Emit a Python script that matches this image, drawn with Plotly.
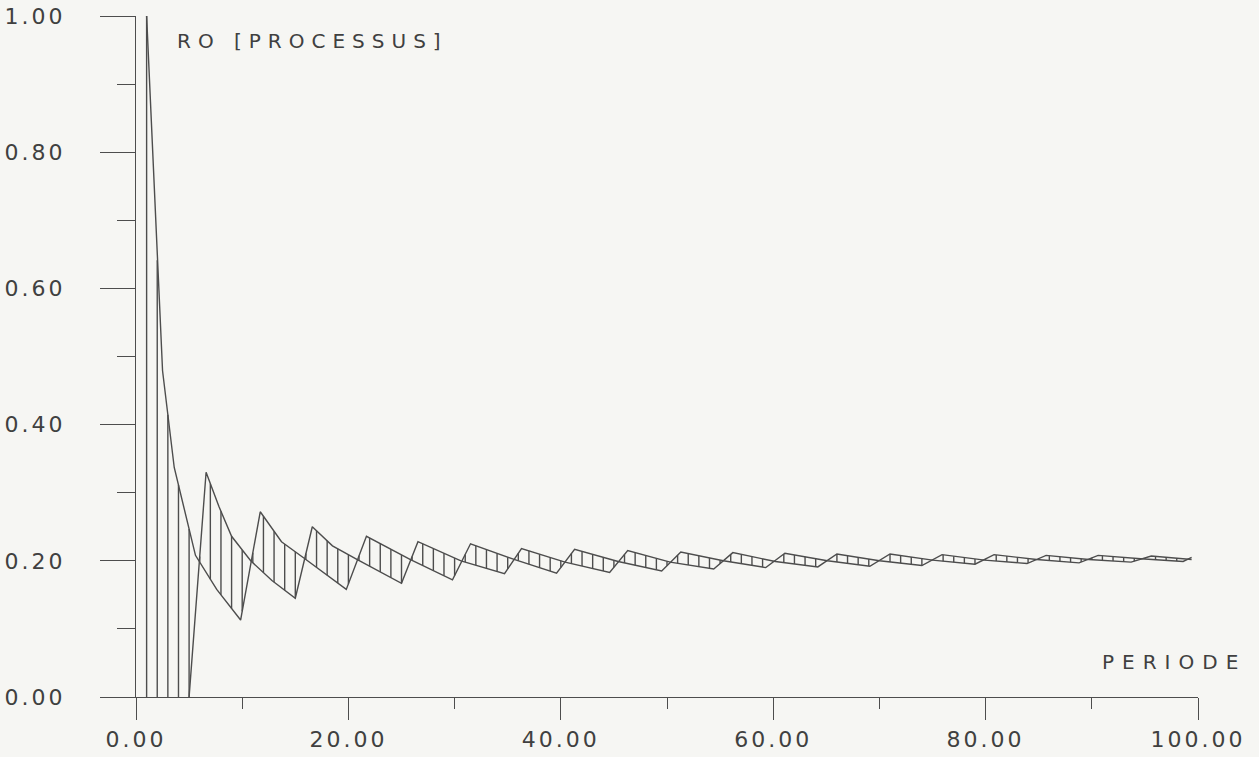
import numpy as np
import plotly.graph_objects as go

# ---- data ----
# curve 1 (starts at lag 1 with rho = 1)
c1_x = [1.0, 1.9, 2.5, 3.6, 5.6, 7.6, 9.85,
        11.7, 13.7, 15.9, 19.8,
        21.7, 25.8, 29.8,
        31.5, 35.6, 39.6,
        41.3, 45.4, 49.5,
        51.3, 55.3, 59.3,
        61.1, 65.1, 69.1,
        71.0, 75.0, 79.0,
        80.8, 84.8, 88.8,
        90.6, 94.6, 98.6, 99.4]
c1_y = [1.000, 0.674, 0.479, 0.337, 0.208, 0.158, 0.113,
        0.272, 0.228, 0.203, 0.158,
        0.236, 0.202, 0.172,
        0.225, 0.202, 0.182,
        0.217, 0.199, 0.185,
        0.213, 0.200, 0.190,
        0.211, 0.200, 0.192,
        0.210, 0.201, 0.195,
        0.209, 0.202, 0.197,
        0.208, 0.203, 0.199, 0.205]
# curve 2 (starts at lag 5 from zero)
c2_x = [5.0, 6.6, 7.8, 9.0, 10.8, 12.8, 15.0,
        16.6, 18.5, 20.8, 25.0,
        26.55, 30.6, 34.7,
        36.3, 40.4, 44.6,
        46.3, 50.3, 54.4,
        56.2, 60.2, 64.2,
        66.0, 70.0, 74.0,
        75.9, 79.9, 83.9,
        85.7, 89.7, 93.7,
        95.6, 99.4]
c2_y = [0.000, 0.330, 0.280, 0.236, 0.200, 0.171, 0.145,
        0.250, 0.222, 0.202, 0.167,
        0.228, 0.200, 0.181,
        0.218, 0.198, 0.183,
        0.215, 0.198, 0.188,
        0.212, 0.199, 0.191,
        0.210, 0.200, 0.193,
        0.209, 0.201, 0.196,
        0.208, 0.202, 0.198,
        0.207, 0.202]
hatch_lags = list(range(1, 100))

x_tick_vals = [0, 20, 40, 60, 80, 100]
x_tick_labels = ["0.00", "20.00", "40.00", "60.00", "80.00", "100.00"]
x_minor_vals = [10, 30, 50, 70, 90]
y_tick_vals = [0.0, 0.2, 0.4, 0.6, 0.8, 1.0]
y_tick_labels = ["0.00", "0.20", "0.40", "0.60", "0.80", "1.00"]
y_minor_vals = [0.1, 0.3, 0.5, 0.7, 0.9]
y_title = "RO [PROCESSUS]"
x_title = "PERIODE"

INK = "#4d4d4d"
TXT = "#404040"
BG = "#f6f6f3"
FONT = "DejaVu Sans"


def spaced(t, sp):
    return f"<span style='letter-spacing:{sp}px'>{t}</span>"


# hatch segments between the two curves at each integer lag
hx, hy = [], []
for k in hatch_lags:
    if k < c1_x[0]:
        continue
    a = np.interp(k, c1_x, c1_y)
    b = np.interp(k, c2_x, c2_y, left=0.0)
    hx += [k, k, None]
    hy += [a, b, None]

fig = go.Figure()
line = dict(color=INK, width=1.4)
fig.add_trace(go.Scatter(x=hx, y=hy, mode="lines", line=line, hoverinfo="skip"))
fig.add_trace(go.Scatter(x=c1_x, y=c1_y, mode="lines", line=line))
fig.add_trace(go.Scatter(x=c2_x, y=c2_y, mode="lines", line=line))

W, H = 1259, 757
L, R, T, B = 136, 61, 16, 60

fig.update_layout(
    width=W, height=H,
    margin=dict(l=L, r=R, t=T, b=B, pad=0, autoexpand=False),
    paper_bgcolor=BG, plot_bgcolor=BG,
    showlegend=False,
    xaxis=dict(
        range=[0, 100], showgrid=False, zeroline=False, automargin=False,
        showline=True, linecolor=INK, linewidth=1.4,
        ticks="outside", ticklen=22, tickwidth=1.4, tickcolor=INK,
        tickvals=x_tick_vals,
        ticktext=[spaced(t, 3) for t in x_tick_labels],
        tickfont=dict(family=FONT, size=22, color=TXT),
        ticklabelstandoff=0,
        minor=dict(ticks="outside", ticklen=11, tickwidth=1.4,
                   tickcolor=INK, tickvals=x_minor_vals),
    ),
    yaxis=dict(
        range=[0, 1.0], showgrid=False, zeroline=False, automargin=False,
        showline=True, linecolor=INK, linewidth=1.4,
        ticks="outside", ticklen=35, tickwidth=1.4, tickcolor=INK,
        tickvals=y_tick_vals,
        ticktext=[spaced(t, 3) for t in y_tick_labels],
        tickfont=dict(family=FONT, size=22, color=TXT),
        ticklabelstandoff=30,
        minor=dict(ticks="outside", ticklen=18, tickwidth=1.4,
                   tickcolor=INK, tickvals=y_minor_vals),
    ),
    annotations=[
        dict(text=spaced(y_title, 7), xref="paper", yref="paper",
             x=(175 - L) / (W - L - R), y=(H - B - 41) / (H - B - T),
             xanchor="left", yanchor="middle", showarrow=False,
             font=dict(family=FONT, size=20, color=TXT)),
        dict(text=spaced(x_title, 8), xref="paper", yref="paper",
             x=(1100 - L) / (W - L - R), y=(H - B - 662) / (H - B - T),
             xanchor="left", yanchor="middle", showarrow=False,
             font=dict(family=FONT, size=20, color=TXT)),
    ],
)

fig.write_html(
    "out.html",
    config={"displayModeBar": False},
    post_script="document.body.style.margin='0';"
                "document.body.style.background='" + BG + "';",
)
